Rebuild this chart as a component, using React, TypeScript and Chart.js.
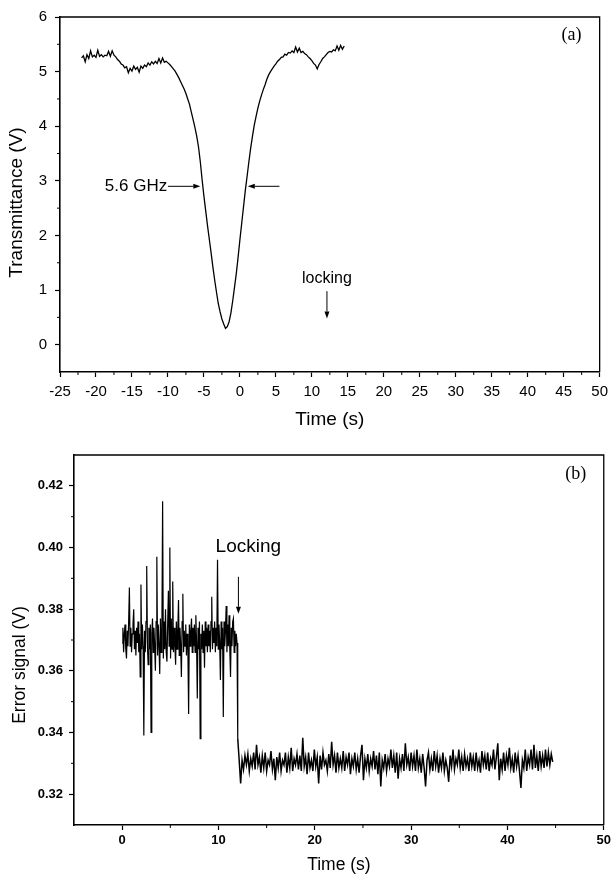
import React, { useEffect, useRef } from "react";
import { Chart, registerables } from "chart.js";
Chart.register(...registerables);

// ---------- Panel (a): transmittance ----------
const TRANS_T0 = -22; // first sample time (s)
const TRANS_DT = 0.25; // sampling interval (s)
const TRANS_V = [
  5.25, 5.29, 5.18, 5.31, 5.24, 5.38, 5.27, 5.30, 5.26, 5.39,
  5.28, 5.31, 5.27, 5.30, 5.29, 5.37, 5.28, 5.38, 5.30, 5.27,
  5.22, 5.19, 5.14, 5.12, 5.07, 5.09, 4.98, 5.06, 5.01, 5.10,
  5.04, 5.08, 4.99, 5.10, 5.06, 5.12, 5.09, 5.16, 5.12, 5.18,
  5.14, 5.19, 5.15, 5.24, 5.16, 5.25, 5.17, 5.19, 5.16, 5.13,
  5.09, 5.05, 5.01, 4.95, 4.89, 4.82, 4.75, 4.68, 4.60, 4.50,
  4.40, 4.26, 4.12, 3.98, 3.82, 3.62, 3.35, 3.02, 2.72, 2.45,
  2.18, 1.93, 1.68, 1.42, 1.18, 0.96, 0.75, 0.60, 0.47, 0.38,
  0.30, 0.33, 0.42, 0.58, 0.80, 1.05, 1.30, 1.60, 1.92, 2.22,
  2.52, 2.82, 3.08, 3.35, 3.60, 3.82, 4.02, 4.18, 4.33, 4.46,
  4.57, 4.67, 4.76, 4.86, 4.94, 5.00, 5.05, 5.10, 5.14, 5.19,
  5.22, 5.26, 5.27, 5.32, 5.30, 5.35, 5.34, 5.38, 5.35, 5.45,
  5.36, 5.43, 5.35, 5.37, 5.33, 5.31, 5.27, 5.24, 5.20, 5.15,
  5.12, 5.05, 5.13, 5.18, 5.24, 5.27, 5.31, 5.35, 5.37, 5.36,
  5.40, 5.38, 5.47, 5.39, 5.48, 5.41, 5.47,
];
const TRANS_X_TICKS = [-25, -20, -15, -10, -5, 0, 5, 10, 15, 20, 25, 30, 35, 40, 45, 50];
const TRANS_X_MINOR = [-22.5, -17.5, -12.5, -7.5, -2.5, 2.5, 7.5, 12.5, 17.5, 22.5, 27.5, 32.5, 37.5, 42.5, 47.5];
const TRANS_Y_TICKS = [0, 1, 2, 3, 4, 5, 6];
const TRANS_Y_MINOR = [0.5, 1.5, 2.5, 3.5, 4.5, 5.5];

// ---------- Panel (b): error signal ----------
// before locking: 0 s .. 12.0 s, sampled every 0.075 s
const ERR_PRE_T0 = 0;
const ERR_PRE_DT = 0.075;
const ERR_PRE_V = [
  0.369, 0.374, 0.366, 0.372, 0.375, 0.367, 0.364, 0.373, 0.368, 0.376,
  0.387, 0.368, 0.374, 0.366, 0.372, 0.375, 0.380, 0.367, 0.373, 0.365,
  0.374, 0.369, 0.376, 0.366, 0.372, 0.358, 0.388, 0.367, 0.375, 0.368,
  0.339, 0.373, 0.366, 0.376, 0.394, 0.368, 0.362, 0.374, 0.367, 0.375,
  0.340, 0.372, 0.377, 0.366, 0.374, 0.368, 0.360, 0.376, 0.397, 0.365,
  0.375, 0.368, 0.359, 0.377, 0.366, 0.373, 0.415, 0.364, 0.376, 0.367,
  0.380, 0.366, 0.363, 0.375, 0.386, 0.368, 0.400, 0.364, 0.377, 0.367,
  0.389, 0.366, 0.374, 0.368, 0.362, 0.376, 0.367, 0.373, 0.383, 0.365,
  0.374, 0.368, 0.358, 0.376, 0.385, 0.366, 0.373, 0.368, 0.375, 0.365,
  0.372, 0.367, 0.346, 0.375, 0.368, 0.373, 0.377, 0.366, 0.374, 0.368,
  0.375, 0.366, 0.378, 0.369, 0.351, 0.374, 0.367, 0.376, 0.338, 0.372,
  0.367, 0.375, 0.366, 0.373, 0.361, 0.376, 0.368, 0.374, 0.366, 0.375,
  0.368, 0.373, 0.366, 0.376, 0.384, 0.367, 0.374, 0.369, 0.376, 0.366,
  0.374, 0.368, 0.396, 0.367, 0.375, 0.369, 0.357, 0.376, 0.367, 0.374,
  0.345, 0.376, 0.368, 0.373, 0.381, 0.366, 0.375, 0.368, 0.378, 0.367,
  0.358, 0.374, 0.368, 0.376, 0.377, 0.366, 0.373, 0.368, 0.372, 0.369,
  0.338,
];
// after locking: 12.0 s .. 44.7 s, sampled every 0.15 s
const ERR_POST_T0 = 12.0;
const ERR_POST_DT = 0.15;
const ERR_POST_V = [
  0.338, 0.331,
  0.3235, 0.331, 0.328, 0.3325, 0.3295, 0.333, 0.3275, 0.3315, 0.329, 0.3335,
  0.328, 0.336, 0.3295, 0.332, 0.327, 0.3325, 0.3285, 0.3335, 0.3275, 0.331,
  0.3295, 0.334, 0.328, 0.3315, 0.3245, 0.332, 0.3285, 0.3335, 0.3275, 0.331,
  0.3295, 0.3335, 0.327, 0.332, 0.3285, 0.335, 0.3275, 0.3315, 0.3295, 0.333,
  0.328, 0.3325, 0.3275, 0.3383, 0.329, 0.332, 0.3265, 0.3335, 0.3285, 0.331,
  0.3275, 0.3345, 0.329, 0.332, 0.3235, 0.3325, 0.328, 0.3335, 0.3295, 0.331,
  0.3275, 0.333, 0.3285, 0.337, 0.3295, 0.3325, 0.327, 0.3335, 0.3285, 0.3315,
  0.3285, 0.334, 0.3275, 0.332, 0.3295, 0.3335, 0.3265, 0.3315, 0.329, 0.3335,
  0.328, 0.3315, 0.327, 0.3325, 0.336, 0.3245, 0.3315, 0.3285, 0.333, 0.3275,
  0.3315, 0.329, 0.334, 0.328, 0.3325, 0.3265, 0.3335, 0.3225, 0.331, 0.3285,
  0.333, 0.3275, 0.3315, 0.329, 0.3345, 0.3285, 0.3325, 0.327, 0.3335, 0.325,
  0.3315, 0.3285, 0.333, 0.3275, 0.3365, 0.3295, 0.332, 0.3275, 0.3335, 0.329,
  0.3325, 0.3275, 0.3345, 0.3285, 0.3315, 0.327, 0.333, 0.3285, 0.3225, 0.331,
  0.3335, 0.328, 0.3315, 0.3275, 0.334, 0.329, 0.3325, 0.327, 0.3315, 0.3285,
  0.3335, 0.3275, 0.331, 0.3285, 0.324, 0.3325, 0.329, 0.3345, 0.328, 0.3315,
  0.3295, 0.3345, 0.3285, 0.332, 0.3275, 0.333, 0.329, 0.3315, 0.3275, 0.3335,
  0.329, 0.332, 0.3275, 0.3335, 0.3285, 0.331, 0.327, 0.334, 0.3295, 0.3325,
  0.328, 0.3335, 0.3275, 0.3315, 0.3295, 0.3345, 0.328, 0.332, 0.3365, 0.3245,
  0.3315, 0.328, 0.3335, 0.3275, 0.3325, 0.3295, 0.335, 0.3285, 0.3315, 0.327,
  0.3335, 0.329, 0.3325, 0.3275, 0.322, 0.331, 0.3285, 0.3345, 0.3275, 0.332,
  0.3295, 0.3345, 0.328, 0.336, 0.3285, 0.3325, 0.3275, 0.334, 0.329, 0.3325,
  0.3285, 0.3345, 0.329, 0.3335, 0.3295, 0.333, 0.3305,
];
const ERR_X_TICKS = [0, 10, 20, 30, 40, 50];
const ERR_X_MINOR = [5, 15, 25, 35, 45];
const ERR_Y_TICKS = [0.32, 0.34, 0.36, 0.38, 0.40, 0.42];
const ERR_Y_MINOR = [0.33, 0.35, 0.37, 0.39, 0.41];

const SANS = "'Liberation Sans', Arial, Helvetica, sans-serif";
const SERIF = "'Liberation Serif', 'Times New Roman', serif";

type Txt = { text: string; x: number; y: number; size: number; family: string; align: CanvasTextAlign };
type Arrow = { x1: number; y1: number; x2: number; y2: number };
type YTitle = { cx: number; dy: number; size: number };

function series(t0: number, dt: number, vals: number[]) {
  return vals.map((v, i) => ({ x: t0 + i * dt, y: v }));
}

function trace(data: { x: number; y: number }[], width: number) {
  return { data, borderColor: "#000", borderWidth: width, pointRadius: 0, tension: 0, fill: false };
}

function decorPlugin(xMinor: number[], yMinor: number[], texts: Txt[], arrows: Arrow[], yTitle: YTitle) {
  return {
    id: "decor",
    afterDraw(chart: any) {
      const { ctx, chartArea: a, scales } = chart;
      const xs = scales.x;
      const ys = scales.y;
      ctx.save();
      ctx.strokeStyle = "#000";
      ctx.fillStyle = "#000";
      // frame top/right
      ctx.lineWidth = 1.3;
      ctx.beginPath();
      ctx.moveTo(a.left, a.top);
      ctx.lineTo(a.right, a.top);
      ctx.lineTo(a.right, a.bottom);
      ctx.stroke();
      // minor ticks
      ctx.lineWidth = 1;
      ctx.beginPath();
      for (const v of xMinor) {
        const px = xs.getPixelForValue(v);
        ctx.moveTo(px, a.bottom);
        ctx.lineTo(px, a.bottom + 3);
      }
      for (const v of yMinor) {
        const py = ys.getPixelForValue(v);
        ctx.moveTo(a.left - 3, py);
        ctx.lineTo(a.left, py);
      }
      ctx.stroke();
      // y-axis title (text taken from the scale's own title option)
      const yText = chart.options.scales.y.title.text;
      ctx.save();
      ctx.translate(yTitle.cx, (a.top + a.bottom) / 2 + yTitle.dy);
      ctx.rotate(-Math.PI / 2);
      ctx.font = `${yTitle.size}px ${SANS}`;
      ctx.textAlign = "center";
      ctx.textBaseline = "middle";
      ctx.fillText(yText, 0, 0);
      ctx.restore();
      // texts
      for (const t of texts) {
        ctx.font = `${t.size}px ${t.family}`;
        ctx.textAlign = t.align;
        ctx.textBaseline = "middle";
        ctx.fillText(t.text, xs.getPixelForValue(t.x), ys.getPixelForValue(t.y));
      }
      // arrows
      for (const ar of arrows) {
        const x1 = xs.getPixelForValue(ar.x1);
        const y1 = ys.getPixelForValue(ar.y1);
        const x2 = xs.getPixelForValue(ar.x2);
        const y2 = ys.getPixelForValue(ar.y2);
        const ang = Math.atan2(y2 - y1, x2 - x1);
        const hl = 7;
        const hw = 2.5;
        ctx.lineWidth = 1;
        ctx.beginPath();
        ctx.moveTo(x1, y1);
        ctx.lineTo(x2 - hl * Math.cos(ang), y2 - hl * Math.sin(ang));
        ctx.stroke();
        ctx.beginPath();
        ctx.moveTo(x2, y2);
        ctx.lineTo(x2 - hl * Math.cos(ang) - hw * Math.sin(ang), y2 - hl * Math.sin(ang) + hw * Math.cos(ang));
        ctx.lineTo(x2 - hl * Math.cos(ang) + hw * Math.sin(ang), y2 - hl * Math.sin(ang) - hw * Math.cos(ang));
        ctx.closePath();
        ctx.fill();
      }
      ctx.restore();
    },
  };
}

function axis(opts: any) {
  return {
    type: "linear",
    min: opts.min,
    max: opts.max,
    afterBuildTicks: (s: any) => {
      s.ticks = opts.ticks.map((v: number) => ({ value: v }));
    },
    afterFit: (s: any) => {
      if (opts.width !== undefined) s.width = opts.width;
      if (opts.height !== undefined) s.height = opts.height;
    },
    ticks: {
      color: "#000",
      autoSkip: false,
      maxRotation: 0,
      padding: opts.tickPad,
      font: { family: SANS, size: opts.tickSize, weight: opts.tickWeight || "normal" },
      callback: opts.fmt,
    },
    grid: { display: true, drawOnChartArea: false, drawTicks: true, tickLength: 5, tickColor: "#000", tickWidth: 1.2 },
    border: { display: true, color: "#000", width: 1.6 },
    title: {
      display: opts.showTitle,
      text: opts.title,
      color: "#000",
      font: { family: SANS, size: opts.titleSize },
      padding: opts.titlePad,
    },
  };
}

function configA(): any {
  return {
    type: "line",
    data: { datasets: [trace(series(TRANS_T0, TRANS_DT, TRANS_V), 1.3)] },
    options: {
      animation: false,
      responsive: false,
      events: [],
      layout: { padding: { left: 0, top: 13, right: 10, bottom: 0 } },
      plugins: { legend: { display: false }, tooltip: { enabled: false } },
      scales: {
        x: axis({
          min: -25, max: 50, ticks: TRANS_X_TICKS, height: 68, tickPad: 6, tickSize: 15, showTitle: true,
          fmt: (v: number) => String(v), title: "Time (s)", titleSize: 19, titlePad: { top: 0, bottom: 8.5 },
        }),
        y: axis({
          min: -0.5, max: 6, ticks: TRANS_Y_TICKS, width: 60, tickPad: 8, tickSize: 15, showTitle: false,
          fmt: (v: number) => String(v), title: "Transmittance (V)", titleSize: 19, titlePad: 0,
        }),
      },
    },
    plugins: [
      decorPlugin(
        TRANS_X_MINOR,
        TRANS_Y_MINOR,
        [
          { text: "(a)", x: 46.1, y: 5.67, size: 18, family: SERIF, align: "center" },
          { text: "5.6 GHz", x: -10.1, y: 2.9, size: 17, family: SANS, align: "right" },
          { text: "locking", x: 12.1, y: 1.21, size: 16, family: SANS, align: "center" },
        ],
        [
          { x1: -10.0, y1: 2.9, x2: -5.5, y2: 2.9 },
          { x1: 5.5, y1: 2.9, x2: 1.1, y2: 2.9 },
          { x1: 12.1, y1: 0.98, x2: 12.1, y2: 0.48 },
        ],
        { cx: 17, dy: 8, size: 19 }
      ),
    ],
  };
}

function configB(): any {
  return {
    type: "line",
    data: {
      datasets: [
        trace(series(ERR_PRE_T0, ERR_PRE_DT, ERR_PRE_V), 1.2),
        trace(series(ERR_POST_T0, ERR_POST_DT, ERR_POST_V), 1.5),
      ],
    },
    options: {
      animation: false,
      responsive: false,
      events: [],
      layout: { padding: { left: 0, top: 15, right: 7, bottom: 0 } },
      plugins: { legend: { display: false }, tooltip: { enabled: false } },
      scales: {
        x: axis({
          min: -5, max: 50, ticks: ERR_X_TICKS, height: 53, tickPad: 3, tickSize: 13, tickWeight: "bold", showTitle: true,
          fmt: (v: number) => String(v), title: "Time (s)", titleSize: 17.5, titlePad: { top: 0, bottom: 2.5 },
        }),
        y: axis({
          min: 0.31, max: 0.43, ticks: ERR_Y_TICKS, width: 74, tickPad: 6, tickSize: 13, tickWeight: "bold", showTitle: false,
          fmt: (v: number) => v.toFixed(2), title: "Error signal (V)", titleSize: 17.5, titlePad: 0,
        }),
      },
    },
    plugins: [
      decorPlugin(
        ERR_X_MINOR,
        ERR_Y_MINOR,
        [
          { text: "(b)", x: 47.1, y: 0.4236, size: 18, family: SERIF, align: "center" },
          { text: "Locking", x: 9.7, y: 0.4003, size: 19, family: SANS, align: "left" },
        ],
        [{ x1: 12.07, y1: 0.3905, x2: 12.07, y2: 0.3785 }],
        { cx: 20, dy: 25, size: 17.5 }
      ),
    ],
  };
}

export default function App() {
  const refA = useRef<HTMLCanvasElement>(null);
  const refB = useRef<HTMLCanvasElement>(null);
  useEffect(() => {
    const a = new Chart(refA.current as HTMLCanvasElement, configA());
    const b = new Chart(refB.current as HTMLCanvasElement, configB());
    return () => {
      a.destroy();
      b.destroy();
    };
  }, []);
  return (
    <div style={{ position: "absolute", left: 0, top: 0, width: 614, height: 878, background: "#fff" }}>
      <canvas
        ref={refA}
        width={614}
        height={440}
        style={{ position: "absolute", left: 0, top: 0, width: 614, height: 440 }}
      />
      <canvas
        ref={refB}
        width={614}
        height={438}
        style={{ position: "absolute", left: 0, top: 440, width: 614, height: 438 }}
      />
    </div>
  );
}
